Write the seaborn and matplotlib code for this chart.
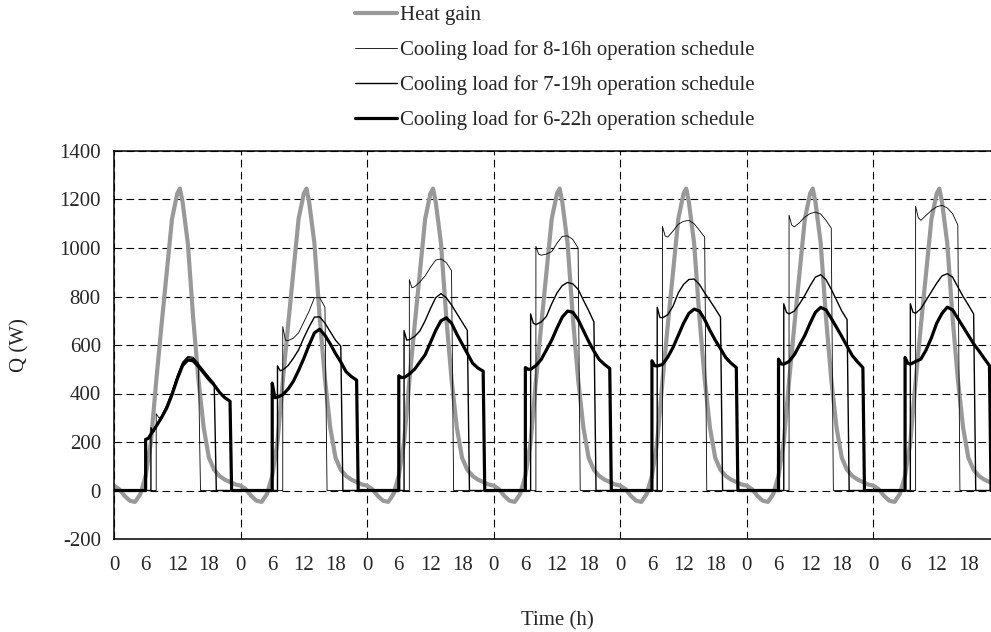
import numpy as np
import pandas as pd
import matplotlib
matplotlib.use('Agg')
import matplotlib.pyplot as plt
import seaborn as sns
from matplotlib.ticker import MultipleLocator, FixedLocator, FuncFormatter

# heat gain over one day (same profile every day)
hg_hours = [0, 1, 2, 3, 4, 5, 6, 7, 8, 9, 10, 11, 12, 12.5, 13, 14, 15, 16, 17, 18, 19, 20, 21, 22, 23]
hg_day = [20, 5, -22, -42, -47, -15, 60, 200, 450, 680, 900, 1120, 1225, 1245, 1190, 1020, 715, 460, 260, 135, 85, 60, 45, 35, 25]

# cooling load, 8-16h schedule (hours within day, one row per day)
h_816 = [8, 8.5, 9, 10, 11, 12, 13, 14, 15, 16]
q_816 = [
    [317, 300, 305, 350, 410, 475, 530, 553, 550, 525],
    [676, 620, 618, 628, 650, 695, 740, 795, 795, 756],
    [869, 836, 840, 860, 885, 920, 950, 955, 940, 907],
    [1007, 975, 970, 975, 985, 1020, 1048, 1050, 1035, 1000],
    [1089, 1050, 1045, 1070, 1098, 1110, 1114, 1100, 1073, 1045],
    [1135, 1095, 1087, 1105, 1128, 1142, 1148, 1140, 1114, 1082],
    [1172, 1125, 1114, 1135, 1155, 1170, 1176, 1165, 1142, 1095],
]

# cooling load, 7-19h schedule
h_719 = [7, 7.5, 8, 9, 10, 11, 12, 13, 14, 15, 16, 17, 18, 19]
q_719 = [
    [259, 240, 268, 305, 350, 405, 470, 525, 548, 545, 522, 495, 468, 442],
    [514, 494, 497, 515, 545, 580, 630, 675, 715, 716, 690, 655, 620, 595],
    [659, 620, 622, 635, 658, 700, 750, 795, 812, 795, 765, 730, 695, 660],
    [728, 690, 684, 695, 718, 770, 815, 845, 858, 852, 830, 785, 742, 695],
    [756, 714, 712, 725, 760, 815, 850, 870, 872, 850, 815, 783, 750, 715],
    [770, 735, 728, 740, 770, 805, 845, 880, 890, 870, 830, 785, 740, 705],
    [770, 735, 731, 750, 785, 820, 855, 885, 894, 880, 840, 800, 765, 728],
]

# cooling load, 6-22h schedule
h_622 = [6, 6.5, 7, 8, 9, 10, 11, 12, 13, 14, 15, 16, 17, 18, 19, 20, 21, 22]
q_622 = [
    [211, 215, 232, 265, 300, 340, 395, 460, 515, 538, 535, 512, 485, 458, 435, 405, 383, 368],
    [443, 383, 385, 395, 418, 450, 495, 545, 600, 650, 665, 640, 605, 565, 530, 490, 470, 455],
    [473, 466, 466, 480, 500, 530, 560, 610, 660, 700, 712, 690, 645, 605, 565, 525, 505, 492],
    [507, 500, 500, 515, 540, 580, 620, 670, 715, 740, 735, 705, 660, 615, 575, 540, 520, 503],
    [535, 515, 513, 520, 550, 590, 640, 690, 730, 748, 740, 705, 660, 620, 585, 548, 525, 507],
    [542, 522, 521, 532, 560, 600, 640, 690, 735, 755, 745, 710, 673, 635, 595, 556, 530, 507],
    [549, 525, 521, 532, 542, 580, 630, 690, 730, 756, 745, 710, 675, 640, 605, 576, 545, 515],
]

y_ticks = [-200, 0, 200, 400, 600, 800, 1000, 1200, 1400]
x_labels = [0, 6, 12, 18]


def schedule_frame(hours, days, label, drop=0.4):
    t, q = [0], [0]
    for d, vals in enumerate(days):
        t += [d * 24 + hours[0]] + [d * 24 + h for h in hours] + [d * 24 + hours[-1] + drop]
        q += [0] + list(vals) + [0]
    t.append(168)
    q.append(0)
    return pd.DataFrame({'t': t, 'q': q, 'series': label})


heat = pd.DataFrame({
    't': [d * 24 + h for d in range(7) for h in hg_hours] + [168],
    'q': hg_day * 7 + [hg_day[0]],
    'series': 'Heat gain',
})
c816 = schedule_frame(h_816, q_816, 'Cooling load for 8-16h operation schedule')
c719 = schedule_frame(h_719, q_719, 'Cooling load for 7-19h operation schedule')
c622 = schedule_frame(h_622, q_622, 'Cooling load for 6-22h operation schedule', drop=0.3)

sns.set_theme(style='white')
plt.rcParams['font.family'] = ['Liberation Serif', 'DejaVu Serif']
plt.rcParams['font.size'] = 15
plt.rcParams['axes.unicode_minus'] = False

fig = plt.figure(figsize=(9.91, 6.32), dpi=100)
ax = fig.add_axes([114 / 991, 93 / 632, 886 / 991, 388 / 632])

sns.lineplot(data=heat, x='t', y='q', ax=ax, color='#999999', lw=3.0,
             estimator=None, sort=False, label='Heat gain')
sns.lineplot(data=c816, x='t', y='q', ax=ax, color='black', lw=0.6,
             estimator=None, sort=False, label=c816['series'][0])
sns.lineplot(data=c719, x='t', y='q', ax=ax, color='black', lw=1.0,
             estimator=None, sort=False, label=c719['series'][0])
sns.lineplot(data=c622, x='t', y='q', ax=ax, color='black', lw=2.3,
             estimator=None, sort=False, label=c622['series'][0])

ax.set_xlim(0, 168)
ax.set_ylim(-200, 1400)
ax.set_yticks(y_ticks)
ax.set_yticklabels([str(v) for v in y_ticks])
ax.xaxis.set_major_locator(MultipleLocator(24))
ax.xaxis.set_minor_locator(FixedLocator([d * 24 + h for d in range(7) for h in x_labels]))
ax.xaxis.remove_overlapping_locs = False
ax.xaxis.set_major_formatter(FuncFormatter(lambda v, p: ''))
ax.xaxis.set_minor_formatter(FuncFormatter(lambda v, p: f'{int(round(v)) % 24}'))
ax.tick_params(axis='x', which='major', direction='inout', length=7, width=1, color='black')
ax.tick_params(axis='x', which='minor', length=0, pad=12, labelsize=15)
ax.tick_params(axis='y', direction='inout', length=7, width=1, color='black', pad=6, labelsize=15)

ax.grid(True, axis='x', which='major', color='black', lw=0.8, ls=(0, (7, 3.8)))
ax.grid(True, axis='y', color='black', lw=0.8, ls=(0, (7, 3.8)))

for s in ['left', 'bottom', 'top']:
    ax.spines[s].set_color('black')
    ax.spines[s].set_linewidth(1.1)
ax.spines['right'].set_visible(False)

ax.set_xlabel('Time (h)', fontsize=15, labelpad=26)
ax.set_ylabel('Q (W)', fontsize=15)
ax.yaxis.set_label_coords(-0.095, 0.5)

handles, labels = ax.get_legend_handles_labels()
ax.get_legend().remove()
fig.legend(handles, labels, loc='upper left', bbox_to_anchor=(355 / 991, 0.991),
           frameon=False, fontsize=15, handlelength=2.0, handletextpad=0.15,
           labelspacing=0.72, borderpad=0, borderaxespad=0)

fig.savefig('out.png', dpi=100)
